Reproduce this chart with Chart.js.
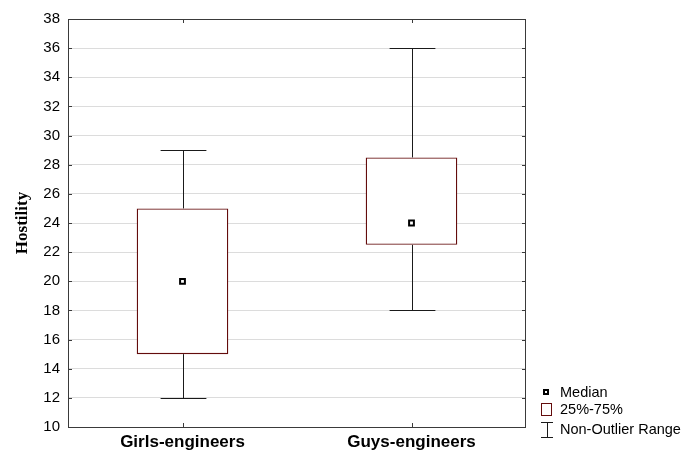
<!DOCTYPE html>
<html>
<head>
<meta charset="utf-8">
<script src="https://cdn.jsdelivr.net/npm/chart.js@4"></script>
<style>
  html, body { margin: 0; padding: 0; background: #fff; }
  #wrap { width: 684px; height: 454px; }
</style>
</head>
<body>
<div id="wrap"><canvas id="boxChart"></canvas></div>
<script>
// data
const groups = ['Girls-engineers', 'Guys-engineers'];
const minVals = [12, 18];
const q1Vals = [15, 22.5];
const medians = [20, 24];
const q3Vals = [25, 28.5];
const maxVals = [29, 36];
const yMin = 10, yMax = 38, yStep = 2;

const boxColor = '#640c0c';
const frameColor = '#3a3a3a';

// frame, inward ticks, whiskers, legend
const boxPlotExtras = {
  id: 'boxPlotExtras',
  beforeDatasetsDraw(chart) {
    const { ctx, chartArea: a, scales: { x, y } } = chart;
    ctx.save();
    ctx.strokeStyle = frameColor;
    ctx.lineWidth = 1;
    ctx.beginPath();
    y.ticks.forEach(t => {
      const py = Math.round(y.getPixelForValue(t.value)) + 0.5;
      ctx.moveTo(a.left, py); ctx.lineTo(a.left + 4, py);
      ctx.moveTo(a.right, py); ctx.lineTo(a.right - 4, py);
    });
    groups.forEach((g, i) => {
      const px = Math.round(x.getPixelForValue(i)) + 0.5;
      ctx.moveTo(px, a.bottom); ctx.lineTo(px, a.bottom - 4);
      ctx.moveTo(px, a.top); ctx.lineTo(px, a.top + 4);
    });
    ctx.stroke();
    ctx.restore();
  },
  afterDatasetsDraw(chart) {
    const { ctx, scales: { x, y } } = chart;
    const bars = chart.getDatasetMeta(0).data;
    ctx.save();
    ctx.strokeStyle = '#1a1a1a';
    ctx.lineWidth = 1;
    ctx.beginPath();
    groups.forEach((g, i) => {
      const px = Math.round(x.getPixelForValue(i)) + 0.5;
      const half = bars[i].width / 4;
      const yLo = Math.round(y.getPixelForValue(minVals[i])) + 0.5;
      const yHi = Math.round(y.getPixelForValue(maxVals[i])) + 0.5;
      ctx.moveTo(px, y.getPixelForValue(q3Vals[i])); ctx.lineTo(px, yHi);
      ctx.moveTo(px - half, yHi); ctx.lineTo(px + half, yHi);
      ctx.moveTo(px, y.getPixelForValue(q1Vals[i])); ctx.lineTo(px, yLo);
      ctx.moveTo(px - half, yLo); ctx.lineTo(px + half, yLo);
    });
    ctx.stroke();
    ctx.restore();
  },
  afterDraw(chart) {
    const { ctx, chartArea: a } = chart;
    ctx.save();
    // plot frame
    ctx.strokeStyle = frameColor;
    ctx.lineWidth = 1;
    ctx.strokeRect(Math.round(a.left) + 0.5, Math.round(a.top) + 0.5,
                   Math.round(a.right - a.left) - 1, Math.round(a.bottom - a.top));
    // legend
    const lx = 541;
    ctx.font = '14.5px "Liberation Sans", Arial, sans-serif';
    ctx.fillStyle = '#000';
    ctx.textBaseline = 'middle';
    ctx.fillText('Median', 560, 393);
    ctx.fillText('25%-75%', 560, 410);
    ctx.fillText('Non-Outlier Range', 560, 430);
    ctx.lineWidth = 2;
    ctx.strokeStyle = '#000';
    ctx.fillStyle = '#fff';
    ctx.fillRect(544, 390, 4, 4);
    ctx.strokeRect(544, 390, 4, 4);
    ctx.lineWidth = 1;
    ctx.strokeStyle = boxColor;
    ctx.strokeRect(lx + 0.5, 403.5, 10, 12);
    ctx.strokeStyle = '#1a1a1a';
    ctx.beginPath();
    ctx.moveTo(lx, 422.5); ctx.lineTo(lx + 12, 422.5);
    ctx.moveTo(lx + 6.5, 422.5); ctx.lineTo(lx + 6.5, 437.5);
    ctx.moveTo(lx, 437.5); ctx.lineTo(lx + 12, 437.5);
    ctx.stroke();
    ctx.restore();
  }
};

new Chart(document.getElementById('boxChart'), {
  type: 'bar',
  data: {
    labels: groups,
    datasets: [{
      label: '25%-75%',
      data: groups.map((g, i) => [q1Vals[i], q3Vals[i]]),
      backgroundColor: '#ffffff',
      borderColor: boxColor,
      borderWidth: 1.3,
      borderSkipped: false,
      barPercentage: 0.4,
      categoryPercentage: 1.0,
      order: 2
    }, {
      type: 'line',
      label: 'Median',
      data: medians,
      showLine: false,
      pointStyle: 'rect',
      pointRadius: 3.4,
      pointBorderWidth: 2,
      pointBorderColor: '#000',
      pointBackgroundColor: '#fff',
      order: 1
    }]
  },
  options: {
    responsive: true,
    maintainAspectRatio: false,
    animation: false,
    layout: { padding: { top: 19, right: 158, left: 0, bottom: 0 } },
    plugins: {
      legend: { display: false },
      tooltip: { enabled: false }
    },
    scales: {
      x: {
        grid: { display: false, drawTicks: false },
        border: { display: false },
        ticks: {
          color: '#000',
          padding: 5,
          font: { family: '"Liberation Sans", Arial, sans-serif', size: 17, weight: 'bold' }
        },
        afterFit(scale) { scale.height = 27; }
      },
      y: {
        min: yMin,
        max: yMax,
        grid: { color: '#dcdcdc', drawTicks: false },
        border: { display: false },
        ticks: {
          stepSize: yStep,
          color: '#000',
          padding: 8,
          font: { family: '"Liberation Sans", Arial, sans-serif', size: 15 }
        },
        title: {
          display: true,
          text: 'Hostility',
          color: '#000',
          padding: { top: 12, bottom: 0 },
          font: { family: '"Liberation Serif", "Times New Roman", serif', size: 17, weight: 'bold' }
        },
        afterFit(scale) { scale.width = 68; }
      }
    }
  },
  plugins: [boxPlotExtras]
});
</script>
</body>
</html>
